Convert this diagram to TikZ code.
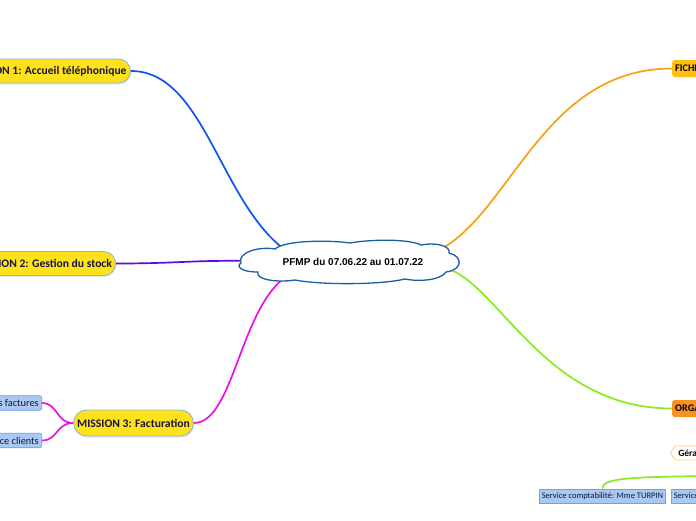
\documentclass[tikz,border=0pt]{standalone}
\usepackage{fontspec}
\setmainfont{Carlito}
\newfontfamily\arialfont{Liberation Sans}
\usetikzlibrary{shapes.misc,shapes.symbols,shadows}
\definecolor{cblue}{HTML}{0D55EE}
\definecolor{cpurple}{HTML}{5A0BE6}
\definecolor{cmag}{HTML}{E812E8}
\definecolor{corange}{HTML}{F9A012}
\definecolor{cgreen}{HTML}{8CEB1C}
\definecolor{cyellow}{HTML}{FFE21A}
\definecolor{cborder}{HTML}{86B6DC}
\definecolor{cnavy}{HTML}{15153C}
\definecolor{cchild}{HTML}{A9C8F2}
\definecolor{cchildb}{HTML}{6C9EDC}
\definecolor{cpink}{HTML}{E07898}
\definecolor{cgold}{HTML}{FFC014}
\definecolor{corg}{HTML}{F7921E}
\definecolor{cloudb}{HTML}{1C5EA6}
\definecolor{hexb}{HTML}{FFD080}
\tikzset{
  mission/.style={rounded rectangle, fill=cyellow, draw=cborder, line width=0.8pt,
    text=cnavy, font=\bfseries\fontsize{11.6}{13}\selectfont, minimum height=24pt,
    inner xsep=3pt, inner ysep=1pt, drop shadow={opacity=0.2, shadow xshift=0.8pt, shadow yshift=-1.5pt}},
  child/.style={rectangle, rounded corners=2pt, fill=cchild, draw=cchildb, line width=0.6pt,
    text=cnavy, font=\fontsize{10.3}{11}\selectfont, minimum height=14.5pt, inner xsep=3pt, inner ysep=0.5pt},
  service/.style={rectangle, fill=cchild, draw=cpink, line width=0.6pt,
    text=cnavy, font=\fontsize{8.5}{10}\selectfont, minimum height=14pt, inner xsep=2.5pt, inner ysep=0.5pt},
  topic/.style={rectangle, rounded corners=2.5pt, text=black,
    font=\bfseries\fontsize{10.2}{11}\selectfont, minimum height=17pt, inner xsep=3pt},
  link/.style={line width=1.7pt},
}
\begin{document}
\begin{tikzpicture}[x=1pt,y=-1pt]
\useasboundingbox (0,0) rectangle (696,520);
\clip (0,0) rectangle (696,520);
\fill[white] (0,0) rectangle (696,520);
% nodes
\node[mission, anchor=east] (m1) at (131,71) {MISSION 1: Accueil téléphonique};
\node[mission, anchor=east] (m2) at (116,263.5) {MISSION 2: Gestion du stock};
\node[mission, minimum height=26pt] (m3) at (133.5,423) {MISSION 3: Facturation};
\node[child, anchor=east] (c1) at (42,403) {Saisie des factures};
\node[child, anchor=east] (c2) at (42,440.5) {Relance clients};
\node[topic, fill=cgold, anchor=west] (fich) at (672,68.5) {FICHE ENTREPRISE};
\node[topic, fill=corg, anchor=west] (orga) at (672,408.5) {ORGANIGRAMME};
\node[signal, signal to=west, signal pointer angle=110, fill=white, draw=hexb, line width=0.8pt,
  font=\bfseries\fontsize{9.5}{10}\selectfont, minimum height=14pt, inner xsep=3pt, inner ysep=1pt,
  anchor=west] (ger) at (670,453) {Gérant};
\node[service, anchor=west] (s1) at (539,496) {Service comptabilité: Mme TURPIN};
\node[service, anchor=west] (s2) at (671,496) {Service commercial};
% connection points inside the cloud
\coordinate (root) at (349,262);
\coordinate (rb) at (288,252);
\coordinate (rp) at (252,261);
\coordinate (rm) at (292,273);
\coordinate (ro) at (433,253);
\coordinate (rg) at (446,268);
\coordinate (offr) at (710,476);
% connectors
\draw[link, cblue] (m1.east) .. controls (205,71) and (220,205) .. (rb);
\draw[link, cpurple] (m2.east) .. controls (180,263.5) and (190,260) .. (rp);
\draw[link, cmag] (m3.east) .. controls (235,423) and (240,300) .. (rm);
\draw[link, cmag] (m3.west) .. controls (56,423) and (58,403) .. (c1.east);
\draw[link, cmag] (m3.west) .. controls (56,423) and (58,440.5) .. (c2.east);
\draw[link, corange] (ro) .. controls (510,220) and (540,68.5) .. (fich.west);
\draw[link, cgreen] (rg) .. controls (500,285) and (545,408.5) .. (orga.west);
\draw[link, cgreen] (offr) .. controls (630,477) and (602,478) .. (s1.north);
% cloud
\draw[cloudb, line width=1.3pt, fill=white]
  (241,263) .. controls (237,253) and (258,246) .. (275,249)
  .. controls (285,240) and (330,240) .. (350,243)
  .. controls (372,239) and (410,239) .. (421,245)
  .. controls (436,242) and (451,246) .. (449,253)
  .. controls (463,256) and (463,270) .. (446,272)
  .. controls (441,280) and (420,282) .. (405,279)
  .. controls (380,285) and (320,285) .. (295,280)
  .. controls (275,283) and (255,279) .. (258,272)
  .. controls (240,272) and (236,266) .. (241,263) -- cycle;
\node[font=\arialfont\bfseries\fontsize{10}{12}\selectfont] (rootlabel) at (353,262) {PFMP du 07.06.22 au 01.07.22};
\end{tikzpicture}
\end{document}
